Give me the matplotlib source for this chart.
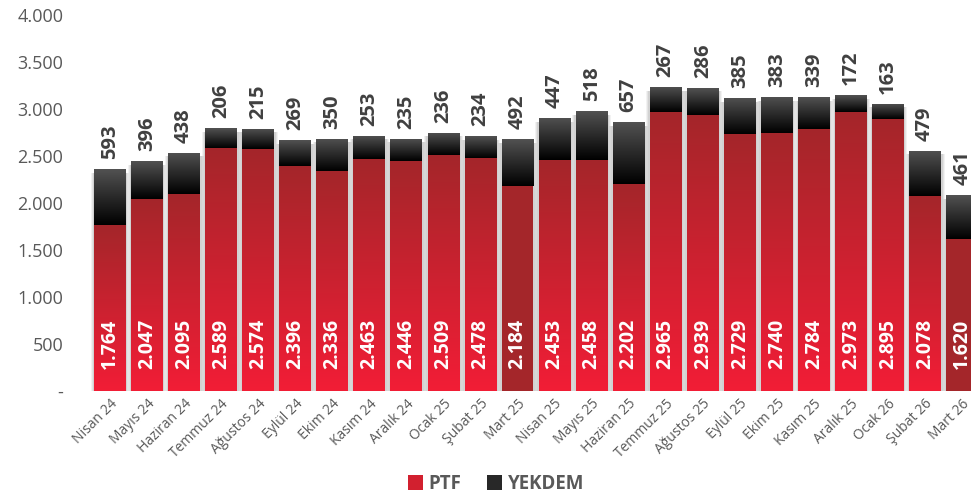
import matplotlib
matplotlib.use("Agg")
import matplotlib.pyplot as plt
import numpy as np
from matplotlib.colors import LinearSegmentedColormap
from matplotlib.patches import Patch

plt.rcParams['font.family'] = ['Open Sans', 'DejaVu Sans']

months = ["Nisan 24", "Mayıs 24", "Haziran 24", "Temmuz 24", "Ağustos 24", "Eylül 24",
          "Ekim 24", "Kasım 24", "Aralık 24", "Ocak 25", "Şubat 25", "Mart 25",
          "Nisan 25", "Mayıs 25", "Haziran 25", "Temmuz 25", "Ağustos 25", "Eylül 25",
          "Ekim 25", "Kasım 25", "Aralık 25", "Ocak 26", "Şubat 26", "Mart 26"]
ptf = [1764, 2047, 2095, 2589, 2574, 2396, 2336, 2463, 2446, 2509, 2478, 2184,
       2453, 2458, 2202, 2965, 2939, 2729, 2740, 2784, 2973, 2895, 2078, 1620]
yekdem = [593, 396, 438, 206, 215, 269, 350, 253, 235, 236, 234, 492,
          447, 518, 657, 267, 286, 385, 383, 339, 172, 163, 479, 461]
highlight = ["Mart 25", "Mart 26"]
yticks = [0, 500, 1000, 1500, 2000, 2500, 3000, 3500, 4000]


def fmt(v):
    return "-" if v == 0 else f"{v:,}".replace(",", ".")


W, H = 971, 497
fig = plt.figure(figsize=(W / 100, H / 100), dpi=100)
ax_left, ax_right = 75, 971
ax_bottom, ax_top = 391, 15
ax = fig.add_axes([ax_left / W, (H - ax_bottom) / H, (ax_right - ax_left) / W, (ax_bottom - ax_top) / H])

x = np.arange(len(months))
width = 0.86
tot = np.array(ptf) + np.array(yekdem)
px_x = 1 / 37.05          # one pixel in x data units
px_y = 4000 / 376         # one pixel in y data units

red_cmap = LinearSegmentedColormap.from_list("red", ["#f21d36", "#a4262a"])
blk_cmap = LinearSegmentedColormap.from_list("blk", ["#000000", "#525252"])
grad = np.linspace(0, 1, 256).reshape(-1, 1)

# soft shadow (blur imitation with layered translucent bars, shifted down)
for grow, alpha in [(3.5, 0.05), (2.5, 0.06), (1.5, 0.07)]:
    ax.bar(x, tot - 1 * px_y, bottom=-2.5 * px_y, width=width + 2 * grow * px_x,
           color="black", alpha=alpha, zorder=1, linewidth=0)

b1 = ax.bar(x, ptf, width=width, color="none", zorder=2, label="PTF", linewidth=0)
b2 = ax.bar(x, yekdem, bottom=ptf, width=width, color="none", zorder=2, label="YEKDEM", linewidth=0)

for i, (p1, p2) in enumerate(zip(b1, b2)):
    x0, y0, w, h = p1.get_x(), p1.get_y(), p1.get_width(), p1.get_height()
    if months[i] in highlight:
        p1.set_facecolor("#a4262a")
    else:
        im = ax.imshow(grad, extent=[x0, x0 + w, y0, y0 + h], origin="lower",
                       cmap=red_cmap, aspect="auto", zorder=2, interpolation="bilinear")
        im.set_clip_path(p1)
    x0, y0, w, h = p2.get_x(), p2.get_y(), p2.get_width(), p2.get_height()
    im = ax.imshow(grad, extent=[x0, x0 + w, y0, y0 + h], origin="lower",
                   cmap=blk_cmap, aspect="auto", zorder=2, interpolation="bilinear")
    im.set_clip_path(p2)

for i in range(len(months)):
    ax.annotate(fmt(ptf[i]), (x[i], 0), xytext=(0, 15.8), textcoords="offset points",
                rotation=90, ha="center", va="bottom", color="white",
                fontsize=14, fontweight="bold", zorder=5, annotation_clip=False)
    ax.annotate(fmt(yekdem[i]), (x[i], tot[i]), xytext=(0, 7.2), textcoords="offset points",
                rotation=90, ha="center", va="bottom", color="#404040",
                fontsize=14.5, fontweight="bold", zorder=5, annotation_clip=False)

ax.set_xlim((ax_left - 110) / 37.05, (ax_right - 110) / 37.05)
ax.set_ylim(0, 4000)
ax.set_yticks(yticks)
ax.set_yticklabels([fmt(v) for v in yticks], color="#595959", fontsize=13)
ax.tick_params(axis="y", length=0, pad=8.5)
ax.set_xticks(x)
ax.set_xticklabels(months, color="#595959", fontsize=10)
ax.tick_params(axis="x", length=0, pad=4, labelrotation=45)
for t in ax.get_xticklabels():
    t.set_ha("right")
    t.set_va("top")
    t.set_rotation_mode("anchor")
for s in ax.spines.values():
    s.set_visible(False)

handles = [Patch(facecolor="#d2202f", label="PTF"), Patch(facecolor="#282828", label="YEKDEM")]
leg = fig.legend(handles=handles, loc="center", bbox_to_anchor=(496 / W, (H - 484) / H),
                 ncol=2, frameon=False, fontsize=13.5, handlelength=0.78, handleheight=0.78,
                 handletextpad=0.3, columnspacing=1.4)
for t in leg.get_texts():
    t.set_color("#595959")
    t.set_fontweight("bold")

fig.savefig("out.png", dpi=100)
